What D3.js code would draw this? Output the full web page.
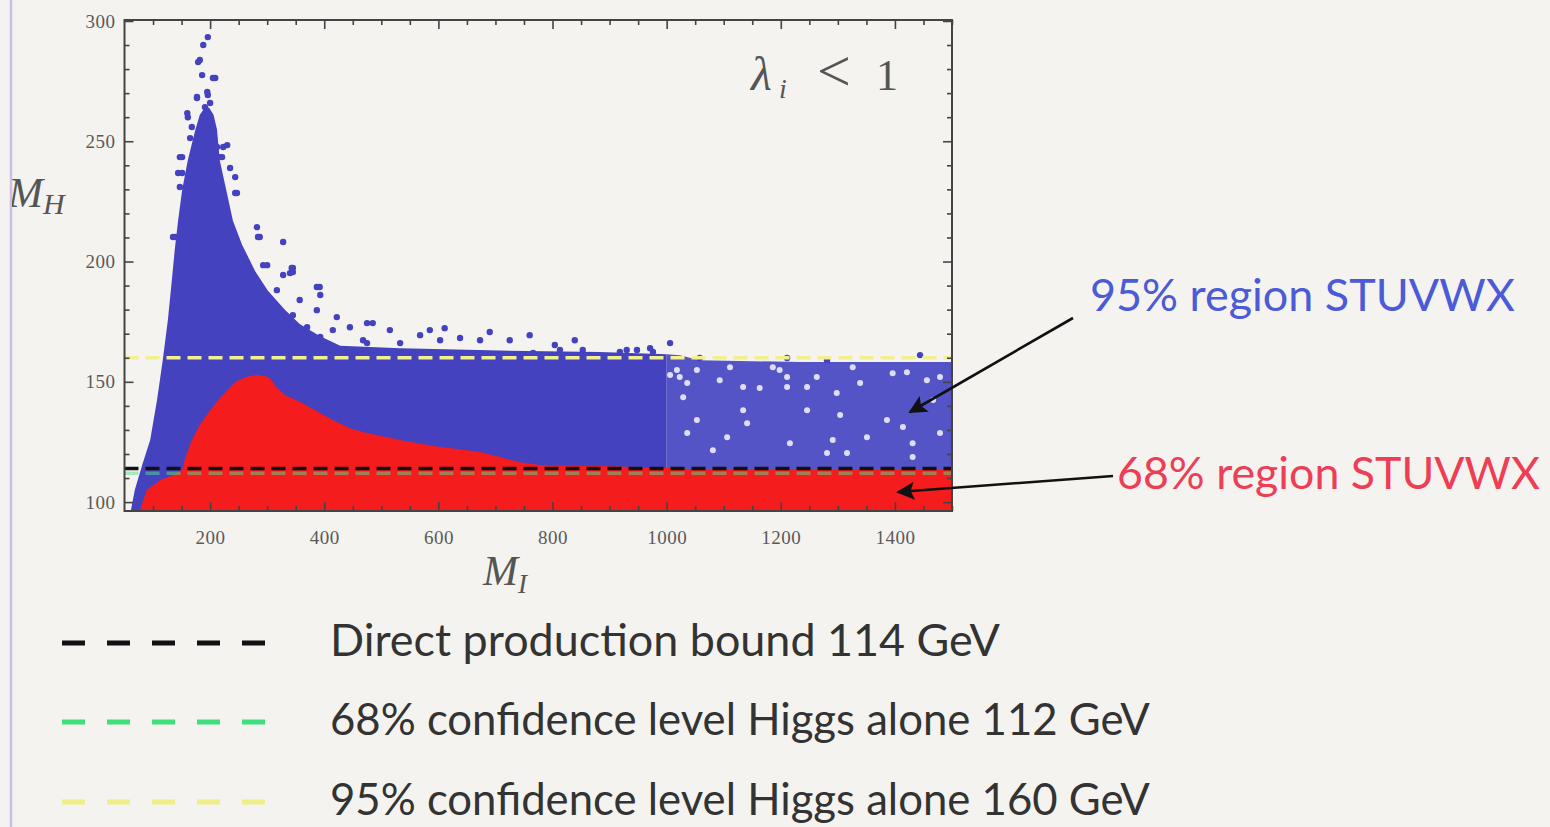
<!DOCTYPE html>
<html>
<head>
<meta charset="utf-8">
<script src="https://cdn.jsdelivr.net/npm/d3@7"></script>
<style>
  html, body { margin: 0; padding: 0; background: #f4f3ef; }
  svg { display: block; }
</style>
</head>
<body>
<svg id="chart" width="1550" height="827"></svg>
<script>
// ---- data (M_I, M_H in GeV) ----
const xDomain = [50, 1500];
const yDomain = [96.3, 300.4];
const xMajorTicks = [200, 400, 600, 800, 1000, 1200, 1400];
const yMajorTicks = [100, 150, 200, 250, 300];

// dense part of the 95% region (M_I below 1000)
const blueDense = [
  [61, 96.3], [68, 105], [81, 115.4], [95, 125.8], [107, 142.4], [117, 159],
  [126, 175.7], [133, 192.3], [138, 204.8], [144, 217.2], [151, 229.7],
  [161, 242.2], [174, 254.7], [182, 261], [191, 264], [198, 264], [206, 261],
  [212, 255], [217, 242], [228, 230], [240, 217], [256, 207], [279, 196],
  [301, 188], [331, 180], [357, 174], [392, 169], [428, 165], [533, 164],
  [708, 163], [883, 162.4], [1000, 161.5], [1000, 96.3]
];
// thinner part of the 95% region (M_I above 1000)
const blueSparse = [
  [1000, 161.5], [1023, 161], [1058, 159], [1234, 158.2], [1500, 158.2],
  [1500, 96.3], [1000, 96.3]
];
// isolated 95% points outside the filled envelope
const blueScatter = [
  [196, 293.3], [188, 290.0], [179, 282.9], [182, 283.8], [186, 277.5],
  [209, 276.3], [205, 276.3], [177, 268.4], [196, 269.2], [177, 268],
  [195, 270.5], [200, 265.9], [160, 261.7], [161, 260], [186, 258.8],
  [191, 264.2], [168, 255.9], [195, 255.9], [165, 251.3], [195, 249.7],
  [223, 247.6], [230, 248.4], [212, 247.6], [151, 243.4], [147, 243.4],
  [217, 243.4], [221, 243.4], [235, 238.9], [244, 235.1], [151, 236.8],
  [144, 236.8], [147, 231], [244, 228.5], [247, 228.5], [139, 210.2],
  [135, 210.2], [282, 214.3], [287, 210.2], [284, 210.2], [328, 208.1],
  [300, 198.5], [345, 197.3], [343, 197.3], [340, 195.2], [387, 189.4],
  [393, 186.1], [422, 176.9], [445, 172.7], [485, 174.4], [515, 171.5],
  [585, 171.5], [673, 167.3], [393, 168.6], [375, 164.4], [475, 166.1],
  [533, 166.1], [603, 167.3], [813, 163.2], [853, 163.2], [918, 162.4],
  [948, 163.2], [766, 162.0], [930, 163.2], [976, 162.4], [1058, 159.9],
  [1211, 159.9], [1281, 159.0], [1444, 161.1],
  [293, 198.5], [328, 194.4], [345, 195.6], [392, 189.4], [317, 188.1],
  [357, 184.0], [345, 177.7], [387, 179.8], [415, 171.5], [370, 172.7],
  [475, 174.4], [468, 167.3], [335, 171.5], [568, 169.4], [611, 172.3],
  [638, 168.2], [690, 170.7], [725, 167.3], [760, 169.4], [804, 165.3],
  [839, 167.3], [971, 164.0], [1006, 166.1]
];
// empty spots inside the thinner part
const blueGaps = [
  [1023, 152.0], [1053, 154.9], [1093, 150.7], [1134, 147.8], [1163, 147.4],
  [1211, 152.0], [1211, 147.8], [1246, 147.8], [1298, 145.3], [1339, 149.5],
  [1396, 153.6], [1456, 150.7], [1029, 143.6], [1053, 134.1], [1134, 138.2],
  [1141, 132.8], [1246, 138.2], [1304, 136.2], [1036, 128.7], [1106, 127.0],
  [1216, 124.5], [1291, 125.8], [1351, 127.0], [1431, 124.5], [1479, 128.7],
  [1081, 121.6], [1281, 120.4], [1316, 120.4], [1431, 118.7], [1386, 134.1],
  [1414, 131.2], [1467, 142.4], [1018, 154.9], [1186, 156.1], [1263, 152.0],
  [1006, 152.8], [1036, 149.5], [1111, 156.1], [1198, 154.9], [1326, 156.1],
  [1421, 154.0], [1479, 152.0]
];
// 68% region envelope
const redRegion = [
  [77, 96.3], [82, 100.4], [89, 105], [112, 109.1], [138, 111.6], [151, 113.3],
  [158, 119.5], [168, 125.8], [182, 132], [200, 138.2], [217, 143.2],
  [230, 146.5], [244, 149.9], [258, 151.5], [270, 152.4], [284, 152.8],
  [296, 152.4], [305, 151.5], [315, 148.2], [331, 144.5], [358, 141.6],
  [384, 138.2], [415, 134.1], [445, 130.7], [475, 128.7], [533, 125.8],
  [591, 123.3], [650, 121.6], [673, 120.8], [708, 118.7], [743, 116.6],
  [778, 115.4], [883, 115], [1023, 114.1], [1058, 113.3], [1500, 113.3],
  [1500, 96.3]
];
// reference mass bounds
const boundValues = [114, 112, 160];
const boundLabels = [
  "Direct production bound 114 GeV",
  "68% confidence level Higgs alone 112 GeV",
  "95% confidence level Higgs alone 160 GeV"
];
const regionLabels = ["95% region STUVWX", "68% region STUVWX"];

// ---- styles ----
const BG = "#f4f3ef";
const BLUE = "#4442be";
const BLUE_LIGHT = "#5454c6";
const RED = "#f41c1c";
const boundStroke = ["#111111", "#3fe07c", "#f0ee86"];
const boundInPlotStroke = ["#111111", "#52e08a", "#f2f08e"];
const boundInPlotOpacity = [1, 0.5, 1];

const svg = d3.select("#chart");
svg.append("rect").attr("width", 1550).attr("height", 827).attr("fill", BG);
// slide border on the left
svg.append("line").attr("x1", 11).attr("x2", 11).attr("y1", 0).attr("y2", 827)
  .attr("stroke", "#cdbfe2").attr("stroke-width", 2.5);

const plot = { left: 124.5, right: 952, top: 20, bottom: 511 };
const x = d3.scaleLinear().domain(xDomain).range([plot.left, plot.right]);
const y = d3.scaleLinear().domain(yDomain).range([plot.bottom, plot.top]);

const defs = svg.append("defs");
defs.append("clipPath").attr("id", "plotClip")
  .append("rect").attr("x", plot.left).attr("y", plot.top)
  .attr("width", plot.right - plot.left).attr("height", plot.bottom - plot.top);

const g = svg.append("g").attr("clip-path", "url(#plotClip)");
const area = d3.line().x(d => x(d[0])).y(d => y(d[1])).curve(d3.curveLinearClosed);

g.append("path").datum(blueDense).attr("d", area).attr("fill", BLUE);
g.append("path").datum(blueSparse).attr("d", area).attr("fill", BLUE_LIGHT);
g.selectAll("circle.gap").data(blueGaps).join("circle").attr("class", "gap")
  .attr("cx", d => x(d[0])).attr("cy", d => y(d[1])).attr("r", 3)
  .attr("fill", "#dedef2");
g.selectAll("circle.pt").data(blueScatter).join("circle").attr("class", "pt")
  .attr("cx", d => x(d[0])).attr("cy", d => y(d[1])).attr("r", 3.2)
  .attr("fill", BLUE);
g.append("path").datum(redRegion).attr("d", area).attr("fill", RED);

// dashed bound lines inside the frame
boundValues.forEach((v, i) => {
  g.append("line")
    .attr("x1", plot.left).attr("x2", plot.right)
    .attr("y1", y(v)).attr("y2", y(v))
    .attr("stroke", boundInPlotStroke[i]).attr("stroke-opacity", boundInPlotOpacity[i])
    .attr("stroke-width", 3.5)
    .attr("stroke-dasharray", "14,7");
});

// frame with ticks on all four sides
const axisColor = "#444";
function minorRange(lo, hi, step) { return d3.range(lo, hi + 1e-9, step); }
const xMinor = minorRange(100, 1500, 50).filter(v => !xMajorTicks.includes(v));
const yMinor = minorRange(100, 300, 10).filter(v => !yMajorTicks.includes(v));

function drawAxis(axisFn, scale, major, minor, transform, withLabels) {
  const ax = svg.append("g").attr("transform", transform);
  ax.call(axisFn(scale).tickValues(major).tickSizeInner(-9).tickSizeOuter(0)
    .tickPadding(18).tickFormat(withLabels ? d3.format("d") : ""));
  ax.call(gg => gg.select(".domain").remove());
  const mx = svg.append("g").attr("transform", transform);
  mx.call(axisFn(scale).tickValues(minor).tickSizeInner(-5).tickSizeOuter(0).tickFormat(""));
  mx.call(gg => gg.select(".domain").remove());
  [ax, mx].forEach(a => a.selectAll("line").attr("stroke", axisColor).attr("stroke-width", 1.6));
  ax.selectAll("text").attr("font-family", "Liberation Serif, serif")
    .attr("font-size", 19).attr("letter-spacing", 0.5).attr("fill", "#5a5a5a");
  return ax;
}
const xl = drawAxis(d3.axisBottom, x, xMajorTicks, xMinor, `translate(0,${plot.bottom})`, true);
xl.selectAll("text").attr("dy", "0.78em");
drawAxis(d3.axisTop, x, xMajorTicks, xMinor, `translate(0,${plot.top})`, false);
const yl = drawAxis(d3.axisLeft, y, yMajorTicks, yMinor, `translate(${plot.left},0)`, true);
yl.selectAll("text").attr("dx", 9);
drawAxis(d3.axisRight, y, yMajorTicks, yMinor, `translate(${plot.right},0)`, false);

svg.append("rect").attr("x", plot.left).attr("y", plot.top)
  .attr("width", plot.right - plot.left).attr("height", plot.bottom - plot.top)
  .attr("fill", "none").attr("stroke", axisColor).attr("stroke-width", 2);

// axis titles
const serif = "Liberation Serif, serif";
const mI = svg.append("text").attr("x", 483).attr("y", 585)
  .attr("font-family", serif).attr("font-size", 42).attr("font-style", "italic")
  .attr("fill", "#555");
mI.append("tspan").text("M");
mI.append("tspan").attr("font-size", 27).attr("dy", 8).text("I");

defs.append("clipPath").attr("id", "leftClip").append("rect")
  .attr("x", 12).attr("y", 0).attr("width", 200).attr("height", 827);
const mH = svg.append("text").attr("x", 8).attr("y", 207)
  .attr("clip-path", "url(#leftClip)")
  .attr("font-family", serif).attr("font-size", 42).attr("font-style", "italic")
  .attr("fill", "#555");
mH.append("tspan").text("M");
mH.append("tspan").attr("font-size", 30).attr("dy", 7).text("H");

// coupling condition label
const lamStyle = s => s.attr("font-family", serif).attr("fill", "#555");
svg.append("text").attr("x", 751).attr("y", 90).attr("font-size", 48)
  .attr("font-style", "italic").text("λ").call(lamStyle);
svg.append("text").attr("x", 779).attr("y", 98).attr("font-size", 28)
  .attr("font-style", "italic").text("i").call(lamStyle);
svg.append("text").attr("x", 817).attr("y", 91).attr("font-size", 60)
  .text("<").call(lamStyle);
svg.append("text").attr("x", 876).attr("y", 90).attr("font-size", 44)
  .text("1").call(lamStyle);

// region annotations with arrows
const sans = "Lato, 'Open Sans', sans-serif";
function fitText(sel, width) {
  const w = sel.node().getComputedTextLength();
  const fs = +sel.attr("font-size");
  sel.attr("font-size", fs * width / w);
}
defs.append("marker").attr("id", "arrowHead").attr("viewBox", "0 0 10 10")
  .attr("refX", 9).attr("refY", 5).attr("markerWidth", 7).attr("markerHeight", 7)
  .attr("markerUnits", "strokeWidth").attr("orient", "auto")
  .append("path").attr("d", "M0,0 L10,5 L0,10 L2,5 Z").attr("fill", "#111");

const t95 = svg.append("text").attr("x", 1090).attr("y", 311)
  .attr("font-family", sans).attr("font-size", 36).attr("fill", "#4b5ad6").text(regionLabels[0]);
fitText(t95, 425);
const t68 = svg.append("text").attr("x", 1117).attr("y", 489)
  .attr("font-family", sans).attr("font-size", 36).attr("fill", "#ee3e55").text(regionLabels[1]);
fitText(t68, 423);

svg.append("line").attr("x1", 1073).attr("y1", 318).attr("x2", 910).attr("y2", 412)
  .attr("stroke", "#111").attr("stroke-width", 2.6).attr("marker-end", "url(#arrowHead)");
svg.append("line").attr("x1", 1113).attr("y1", 476).attr("x2", 898).attr("y2", 492)
  .attr("stroke", "#111").attr("stroke-width", 2.6).attr("marker-end", "url(#arrowHead)");

// legend for the bound lines
const legendY = [643, 722, 802];
boundLabels.forEach((lab, i) => {
  svg.append("line").attr("x1", 62).attr("x2", 272)
    .attr("y1", legendY[i]).attr("y2", legendY[i])
    .attr("stroke", boundStroke[i]).attr("stroke-width", 5)
    .attr("stroke-dasharray", "23,22");
  const t = svg.append("text").attr("x", 330).attr("y", legendY[i] + 13)
    .attr("font-family", sans).attr("font-size", 36).attr("fill", "#333").text(lab);
  fitText(t, i === 0 ? 670 : 820);
});
</script>
</body>
</html>
